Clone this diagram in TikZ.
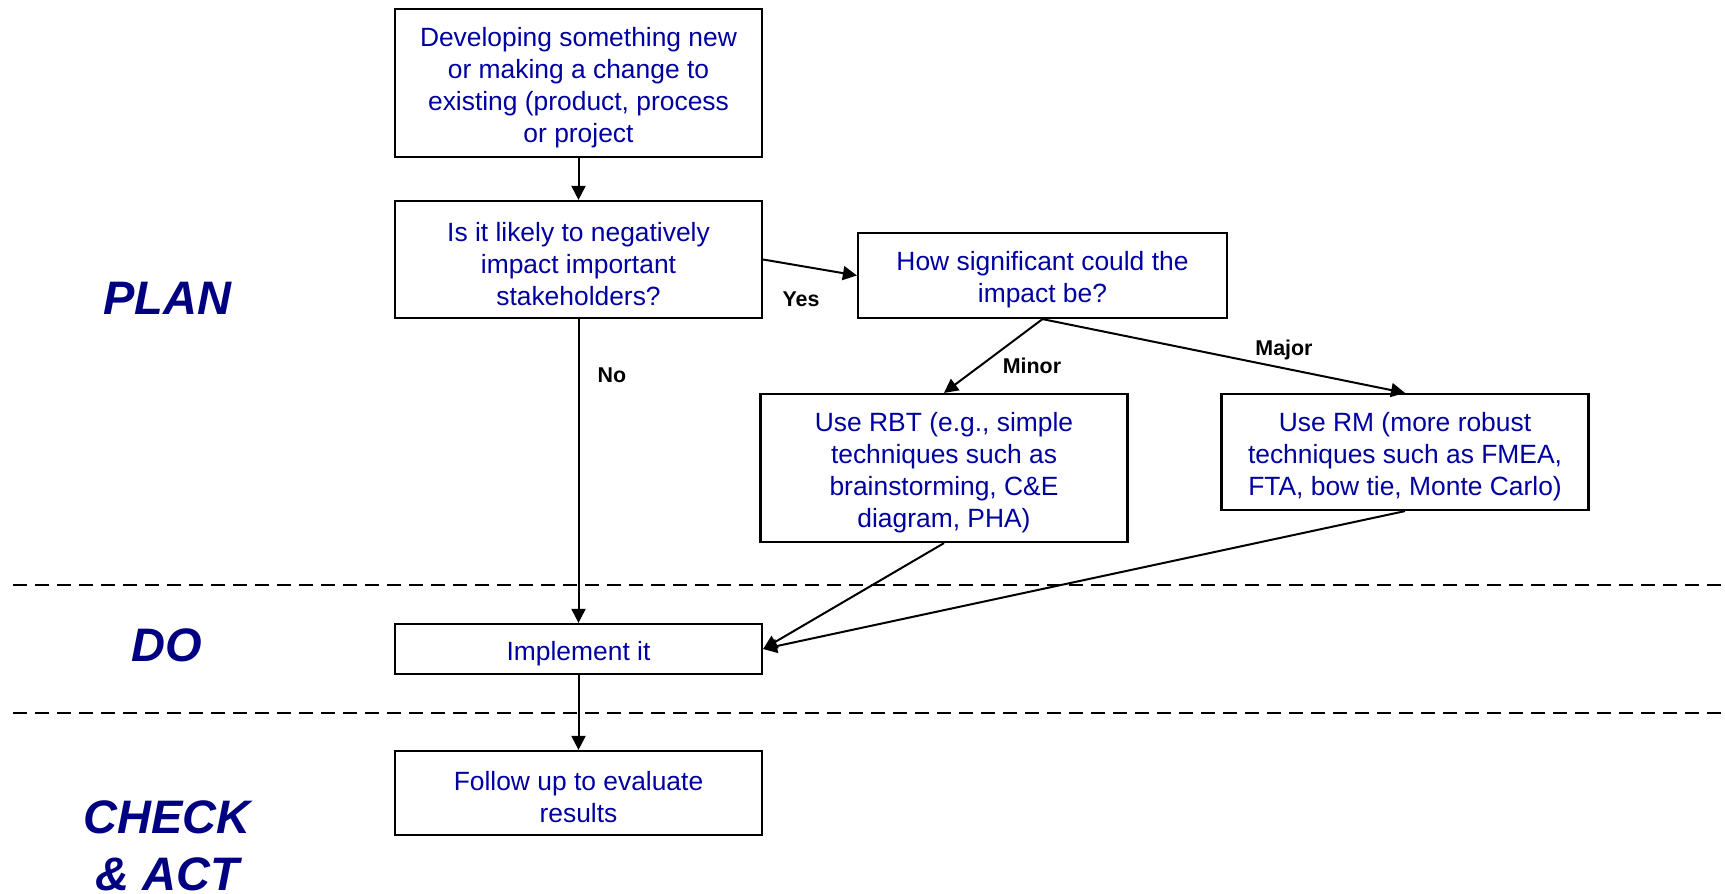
\documentclass[tikz,border=0pt]{standalone}
\usepackage{fontspec}
\setmainfont{Liberation Sans}
\usetikzlibrary{arrows.meta}
\definecolor{boxtext}{RGB}{0,0,160}
\definecolor{phase}{RGB}{0,0,128}
\newcommand\topstrut{\rule{0pt}{13.8pt}}
\tikzset{
  flowbox/.style={draw=black, line width=1.1pt, fill=white, text=boxtext, align=center,
    minimum width=183.5pt, inner sep=0pt, font=\fontsize{13.2}{16}\selectfont},
  conn/.style={line width=1pt, -{Triangle[length=7pt,width=7pt]}},
  edgelab/.style={font=\fontsize{10.7}{12}\selectfont\bfseries, text=black},
  phaselab/.style={font=\fontsize{23.5}{28.6}\selectfont\bfseries\itshape, text=phase, align=center},
  sepline/.style={line width=1pt, dash pattern=on 7pt off 4pt}
}
\begin{document}
\begin{tikzpicture}[x=0.5pt,y=-0.5pt]
\useasboundingbox (0,0) rectangle (1725,894);
% separators
\coordinate (s1a) at (13,585); \coordinate (s1b) at (1725,585);
\coordinate (s2a) at (13,713); \coordinate (s2b) at (1725,713);
\draw[sepline] (s1a) -- (s1b);
\draw[sepline] (s2a) -- (s2b);
% boxes
\node[flowbox, minimum height=74pt] (b1) at (578.5,83) {\topstrut Developing something new\\or making a change to\\existing (product, process\\or project};
\node[flowbox, minimum height=58.5pt] (b2) at (578.5,259.5) {\topstrut Is it likely to negatively\\impact important\\stakeholders?};
\node[flowbox, minimum height=42.5pt, minimum width=184.5pt] (b3) at (1042.5,275.5) {\topstrut How significant could the\\impact be?};
\node[flowbox, minimum height=74pt] (b4) at (944,468) {\topstrut Use RBT (e.g., simple\\techniques such as\\brainstorming, C\&E\\diagram, PHA)};
\node[flowbox, minimum height=58pt] (b5) at (1405,452) {\topstrut Use RM (more robust\\techniques such as FMEA,\\FTA, bow tie, Monte Carlo)};
\node[flowbox, minimum height=25pt] (b6) at (578.5,649) {\topstrut Implement it};
\node[flowbox, minimum height=42pt] (b7) at (578.5,793) {\topstrut Follow up to evaluate\\results};
% connectors
\draw[conn] (b1.south) -- (b2.north);
\draw[conn] (b2.east) -- (b3.west);
\draw[conn] (b3.south) -- (b4.north);
\draw[conn] (b3.south) -- (b5.north);
\draw[conn] (b2.south) -- (b6.north);
\draw[conn] (b4.south) -- (b6.east);
\draw[conn] (b5.south) -- (b6.east);
\draw[conn] (b6.south) -- (b7.north);
% edge labels
\node[edgelab] (lyes) at (801,299) {Yes};
\node[edgelab] (lno) at (612,375) {No};
\node[edgelab] (lminor) at (1032,366) {Minor};
\node[edgelab] (lmajor) at (1284,350) {Major};
% phase labels
\node[phaselab] (plan) at (167,298) {PLAN};
\node[phaselab] (do) at (167,645) {DO};
\node[phaselab] (check) at (167,846) {CHECK\\\& ACT};
\end{tikzpicture}
\end{document}
